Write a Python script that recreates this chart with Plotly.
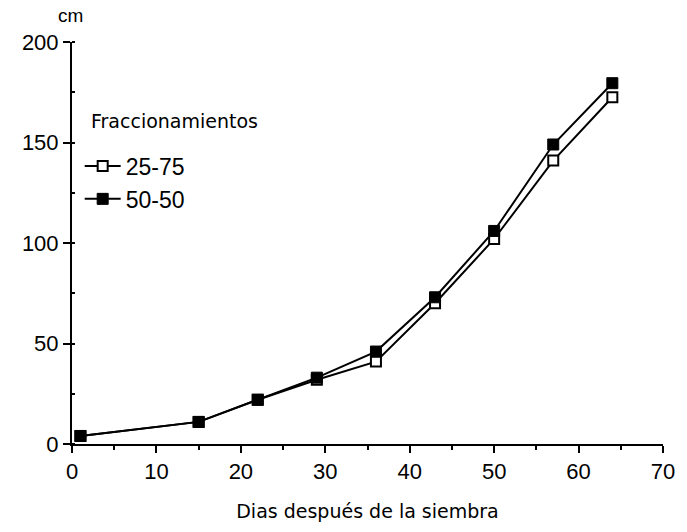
import plotly.graph_objects as go

dias = [1, 15, 22, 29, 36, 43, 50, 57, 64]
altura_25_75 = [4, 11, 22, 32, 41, 70, 102, 141, 172.5]
altura_50_50 = [4, 11, 22, 33, 46, 73, 106, 149, 179.5]
serie_names = ["25-75", "50-50"]
x_ticks = [0, 10, 20, 30, 40, 50, 60, 70]
y_ticks = [0, 50, 100, 150, 200]

FONT = "Liberation Sans"

fig = go.Figure()
fig.add_trace(go.Scatter(
    x=dias, y=altura_25_75, name=serie_names[0], mode="lines+markers",
    line=dict(color="black", width=2),
    marker=dict(symbol="square", size=10, color="white", line=dict(color="black", width=2)),
))
fig.add_trace(go.Scatter(
    x=dias, y=altura_50_50, name=serie_names[1], mode="lines+markers",
    line=dict(color="black", width=2),
    marker=dict(symbol="square", size=11, color="black", line=dict(color="black", width=1)),
))

fig.update_layout(
    width=687, height=532,
    margin=dict(l=72, r=13, t=42, b=88),
    paper_bgcolor="white", plot_bgcolor="white",
    font=dict(family=FONT, color="black", size=20),
    showlegend=True,
    legend=dict(
        x=0.013, y=0.745, xanchor="left", yanchor="top",
        font=dict(family=FONT, size=23, color="black"),
        bgcolor="rgba(0,0,0,0)", itemwidth=36,
        tracegroupgap=0,
    ),
    xaxis=dict(
        range=[0, 70], tickvals=x_ticks, showgrid=False, zeroline=False,
        showline=True, linecolor="black", linewidth=2,
        ticks="outside", ticklen=7, tickwidth=2, tickcolor="black",
        minor=dict(dtick=5, ticks="outside", ticklen=4, tickwidth=1.5, tickcolor="black"),
        tickfont=dict(family=FONT, size=22),
        title=dict(text="Dias después de la siembra",
                   font=dict(family="DejaVu Sans", size=19), standoff=21),
    ),
    yaxis=dict(
        range=[0, 200], tickvals=y_ticks, showgrid=False, zeroline=False,
        showline=True, linecolor="black", linewidth=2,
        ticks="outside", ticklen=7, tickwidth=2, tickcolor="black",
        minor=dict(dtick=25, ticks="inside", ticklen=3, tickwidth=1.5, tickcolor="black"),
        tickfont=dict(family=FONT, size=22),
    ),
    annotations=[
        dict(text="cm", xref="paper", yref="paper", x=-0.003, y=1.0, yshift=27,
             xanchor="center", yanchor="middle", showarrow=False,
             font=dict(family=FONT, size=19)),
        dict(text="Fraccionamientos", xref="paper", yref="paper", x=0.028, y=0.803,
             xanchor="left", yanchor="middle", showarrow=False,
             font=dict(family="DejaVu Sans", size=19)),
    ],
)

fig.write_html("out.html")
